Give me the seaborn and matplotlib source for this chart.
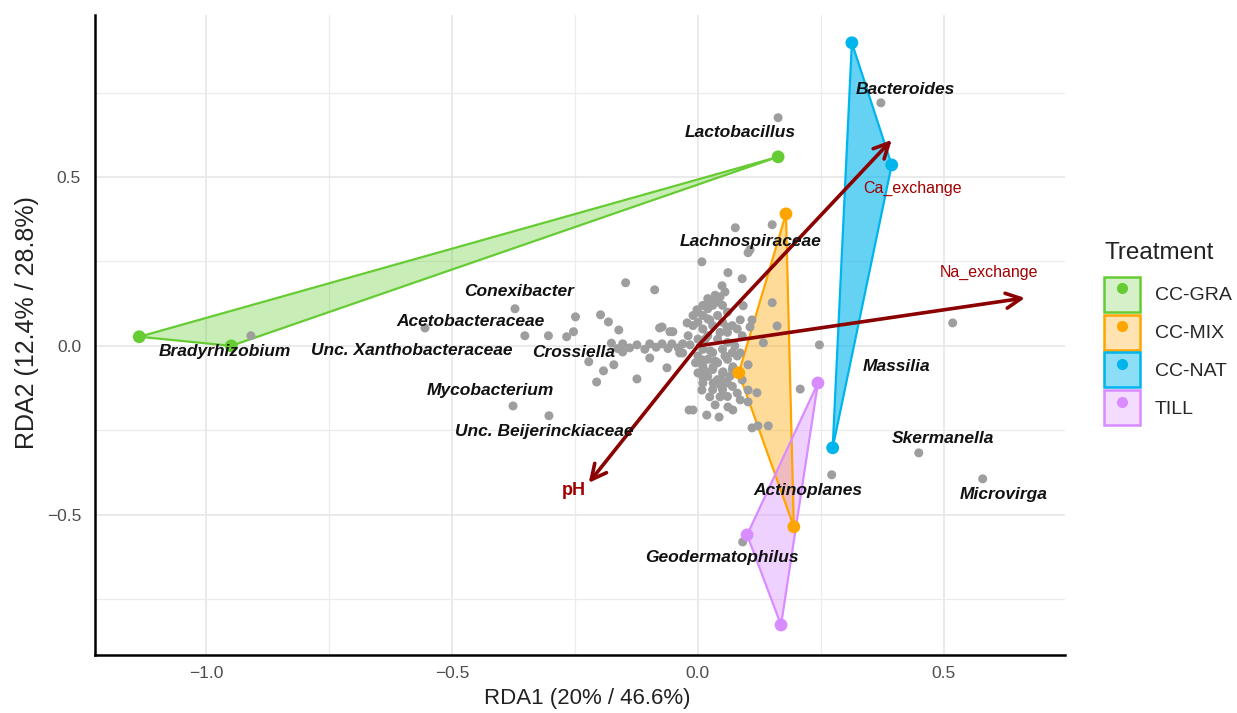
import numpy as np
import pandas as pd
import seaborn as sns
import matplotlib.pyplot as plt
from matplotlib.patches import Patch
from matplotlib.lines import Line2D
from matplotlib.ticker import MultipleLocator

# ---- data ----
treatments = ['CC-GRA', 'CC-MIX', 'CC-NAT', 'TILL']
colors = {'CC-GRA': '#66CC33', 'CC-MIX': '#FFA500',
          'CC-NAT': '#00B4EC', 'TILL': '#D98CFF'}
fill_alpha = {'CC-GRA': 0.35, 'CC-MIX': 0.4, 'CC-NAT': 0.6, 'TILL': 0.4}

site_group = ['CC-GRA'] * 3 + ['CC-MIX'] * 3 + ['CC-NAT'] * 3 + ['TILL'] * 3
site_rda1 = [-1.136, -0.949, 0.163,
             0.179, 0.083, 0.195,
             0.313, 0.394, 0.274,
             0.244, 0.100, 0.169]
site_rda2 = [0.027, 0.000, 0.560,
             0.391, -0.080, -0.536,
             0.898, 0.536, -0.302,
             -0.110, -0.560, -0.827]

env_names = ['Ca_exchange', 'Na_exchange', 'pH']
env_rda1 = [0.394, 0.665, -0.222]
env_rda2 = [0.610, 0.142, -0.406]
env_label_x = [0.437, 0.591, -0.252]
env_label_y = [0.465, 0.219, -0.430]

taxa_names = ['Lactobacillus', 'Bacteroides', 'Lachnospiraceae', 'Conexibacter',
              'Acetobacteraceae', 'Unc. Xanthobacteraceae', 'Bradyrhizobium',
              'Crossiella', 'Mycobacterium', 'Unc. Beijerinckiaceae', 'Massilia',
              'Skermanella', 'Microvirga', 'Actinoplanes', 'Geodermatophilus']
taxa_rda1 = [0.163, 0.372, 0.102, -0.372, -0.555, -0.352, -0.909, -0.267,
             -0.376, -0.303, 0.518, 0.449, 0.579, 0.272, 0.091]
taxa_rda2 = [0.676, 0.720, 0.276, 0.110, 0.053, 0.030, 0.030, 0.027,
             -0.178, -0.207, 0.068, -0.317, -0.394, -0.382, -0.581]
taxa_label_x = [0.085, 0.421, 0.106, -0.364, -0.463, -0.581, -0.961, -0.252,
                -0.423, -0.313, 0.404, 0.498, 0.622, 0.224, 0.049]
taxa_label_y = [0.631, 0.761, 0.308, 0.160, 0.071, -0.015, -0.018, -0.021,
                -0.133, -0.255, -0.062, -0.273, -0.441, -0.430, -0.628]

# unlabelled species scores
other_rda1 = [0.076, 0.151, 0.106, 0.008, 0.061, 0.090, -0.147, -0.088, 0.049, 0.055,
              0.151, 0.092, 0.161, -0.249, -0.198, -0.182, -0.161, -0.304, -0.253,
              -0.073, -0.051, -0.022, -0.002, 0.018, 0.031, 0.045, 0.024, 0.059,
              0.086, 0.110, 0.106, 0.133, 0.247,
              -0.176, -0.153, -0.124, -0.098, -0.073, -0.053, -0.031, -0.016,
              -0.163, -0.139, -0.108, -0.061, -0.085, -0.040,
              -0.153, -0.098, -0.222, -0.171, -0.192, -0.206, -0.124, -0.063, -0.031,
              0.010, 0.031, 0.051, 0.010, 0.031, 0.049, 0.071, 0.086, 0.102, 0.090,
              0.102, 0.120, 0.008, 0.024, 0.045, 0.086, 0.035, 0.061, -0.010, 0.018,
              0.043, 0.071, 0.110, 0.122, 0.143, 0.208, 0.082, 0.102, -0.018, -0.037,
              -0.078, -0.057,
              0.00, 0.01, 0.02, 0.03, 0.04, 0.05, 0.02, 0.00, -0.01, 0.01, 0.03, 0.04,
              0.06, 0.05, 0.07, 0.06, 0.08, 0.09, -0.02, 0.00, 0.02, 0.04, 0.06, 0.01,
              0.03, 0.05, 0.07, 0.00, 0.02, 0.04, 0.06, 0.08, 0.01, 0.03, 0.05, 0.07,
              0.02, 0.04, 0.06, 0.00, 0.01, 0.03, 0.05, 0.07, 0.06, 0.08, 0.02, 0.01,
              -0.01, 0.035, -0.005, 0.015, 0.045, 0.055, 0.025, 0.075, 0.065, 0.035,
              0.015, 0.045]
other_rda2 = [0.350, 0.359, 0.285, 0.249, 0.217, 0.199, 0.187, 0.166, 0.178, 0.160,
              0.128, 0.119, 0.059, 0.086, 0.092, 0.071, 0.047, 0.030, 0.042,
              0.056, 0.042, 0.068, 0.107, 0.116, 0.136, 0.145, 0.077, 0.056,
              0.077, 0.077, 0.056, 0.009, 0.003,
              0.008, 0.006, 0.003, 0.006, 0.006, 0.006, 0.006, 0.003,
              -0.008, -0.006, -0.010, -0.008, -0.004, -0.006,
              -0.018, -0.036, -0.047, -0.056, -0.074, -0.107, -0.098, -0.065, -0.021,
              -0.042, -0.062, -0.077, -0.092, -0.110, -0.101, -0.062, -0.021, -0.056, -0.101,
              -0.131, -0.139, -0.131, -0.151, -0.151, -0.160, -0.175, -0.181, -0.190, -0.205,
              -0.211, -0.190, -0.243, -0.237, -0.237, -0.128, -0.080, -0.166, -0.190, -0.021,
              0.053, 0.042,
              0.10, 0.09, 0.11, 0.12, 0.13, 0.12, 0.08, 0.07, 0.06, 0.05, 0.06, 0.09,
              0.10, 0.07, 0.06, 0.04, 0.05, 0.03, 0.03, 0.02, 0.03, 0.02, 0.01, -0.01,
              -0.02, -0.01, -0.02, -0.03, -0.04, -0.05, -0.04, -0.03, -0.06, -0.07, -0.08, -0.07,
              -0.09, -0.10, -0.11, -0.08, -0.11, -0.13, -0.13, -0.12, -0.15, -0.14, 0.14, 0.12,
              0.09, 0.15, -0.05, 0.02, 0.04, -0.03, -0.015, 0.00, -0.09, -0.045,
              -0.075, -0.115]

sites = pd.DataFrame({'RDA1': site_rda1, 'RDA2': site_rda2, 'Treatment': site_group})
species = pd.DataFrame({'RDA1': taxa_rda1 + other_rda1, 'RDA2': taxa_rda2 + other_rda2})


def hull(pts):
    pts = sorted(map(tuple, pts))
    if len(pts) < 3:
        return pts

    def cross(o, a, b):
        return (a[0] - o[0]) * (b[1] - o[1]) - (a[1] - o[1]) * (b[0] - o[0])
    lower, upper = [], []
    for p in pts:
        while len(lower) >= 2 and cross(lower[-2], lower[-1], p) <= 0:
            lower.pop()
        lower.append(p)
    for p in reversed(pts):
        while len(upper) >= 2 and cross(upper[-2], upper[-1], p) <= 0:
            upper.pop()
        upper.append(p)
    return lower[:-1] + upper[:-1]


sns.set_theme(style='whitegrid')
plt.rcParams['font.family'] = ['Liberation Sans', 'DejaVu Sans']

fig = plt.figure(figsize=(12.37, 7.13), dpi=100)
ax = fig.add_axes([0.0768, 0.0813, 0.784, 0.898])

# hulls
for t in treatments:
    sub = sites[sites.Treatment == t]
    h = np.array(hull(sub[['RDA1', 'RDA2']].values))
    ax.fill(h[:, 0], h[:, 1], facecolor=colors[t], alpha=fill_alpha[t], lw=0, zorder=2)
    ax.fill(h[:, 0], h[:, 1], facecolor='none', edgecolor=colors[t], lw=1.6, zorder=2.1)

# species points
sns.scatterplot(data=species, x='RDA1', y='RDA2', color='#9e9e9e', s=42,
                edgecolor='none', ax=ax, zorder=3)

# site points
sns.scatterplot(data=sites, x='RDA1', y='RDA2', hue='Treatment', palette=colors,
                s=85, edgecolor='none', ax=ax, legend=False, zorder=4)

# env arrows
for name, ex, ey, lx, ly in zip(env_names, env_rda1, env_rda2, env_label_x, env_label_y):
    ax.annotate('', xy=(ex, ey), xytext=(0, 0),
                arrowprops=dict(arrowstyle='->,head_length=0.9,head_width=0.45',
                                color='#8B0000', lw=2.6, shrinkA=0, shrinkB=0),
                zorder=5)
    if name == 'pH':
        ax.text(lx, ly, name, color='#a00000', fontsize=13, fontweight='bold',
                ha='center', va='center', zorder=6)
    else:
        ax.text(lx, ly, name, color='#a00000', fontsize=11.5,
                ha='center', va='center', zorder=6)

# taxa labels
for name, lx, ly in zip(taxa_names, taxa_label_x, taxa_label_y):
    ax.text(lx, ly, name, fontsize=12.5, fontweight='bold', fontstyle='italic',
            color='#111111', ha='center', va='center', zorder=6)

ax.set_xlim(-1.226, 0.746)
ax.set_ylim(-0.916, 0.981)
ax.xaxis.set_major_locator(MultipleLocator(0.5))
ax.yaxis.set_major_locator(MultipleLocator(0.5))
ax.xaxis.set_minor_locator(MultipleLocator(0.25))
ax.yaxis.set_minor_locator(MultipleLocator(0.25))
ax.grid(which='major', color='#e6e6e6', lw=1.2)
ax.grid(which='minor', color='#ececec', lw=0.9)
ax.set_axisbelow(True)
ax.tick_params(which='both', length=0, labelsize=12.5, labelcolor='#4d4d4d')
ax.tick_params(axis='x', pad=8)
ax.tick_params(axis='y', pad=10)
for side in ['top', 'right']:
    ax.spines[side].set_visible(False)
for side in ['left', 'bottom']:
    ax.spines[side].set_color('black')
    ax.spines[side].set_linewidth(1.8)
ax.set_facecolor('white')

ax.set_xlabel('RDA1 (20% / 46.6%)', fontsize=16, color='#222222')
ax.set_ylabel('RDA2 (12.4% / 28.8%)', fontsize=18, color='#222222')
ax.xaxis.set_label_coords(0.508, -0.051)
ax.yaxis.set_label_coords(-0.058, 0.52)

# legend
fig.text(0.8925, 0.645, 'Treatment', fontsize=17.5, color='#222222',
         ha='left', va='center')
handles = []
for t in treatments:
    patch = Patch(facecolor=colors[t], alpha=fill_alpha[t] * 0.75, edgecolor='none')
    edge = Patch(facecolor='none', edgecolor=colors[t], lw=1.8)
    dot = Line2D([], [], marker='o', color=colors[t], ls='', ms=7)
    handles.append((patch, edge, dot))
fig.legend(handles, treatments, loc='upper left',
           bbox_to_anchor=(0.8925, 0.612), frameon=False, fontsize=14,
           handlelength=1.85, handleheight=2.39, borderpad=0,
           labelspacing=0.15, handletextpad=0.75, borderaxespad=0)

fig.savefig('out.png', dpi=100)
